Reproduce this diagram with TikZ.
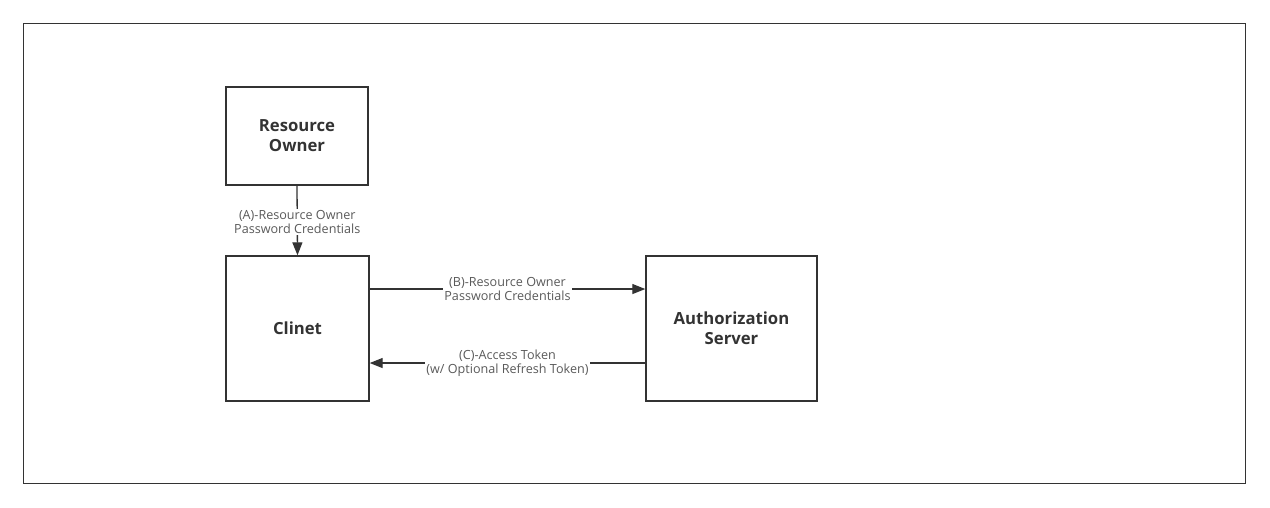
\documentclass[tikz,border=0pt]{standalone}
\usepackage{fontspec}
\setmainfont{Open Sans}
\usetikzlibrary{arrows.meta}
\definecolor{ink}{HTML}{333333}
\definecolor{lbl}{HTML}{5a5a5a}
\begin{document}
\begin{tikzpicture}[x=1pt,y=-1pt,
  box/.style={draw=ink,line width=1.4pt,minimum width=#1,inner sep=0pt,align=center,font=\fontsize{16.7}{20}\selectfont\bfseries,text=ink},
  lab/.style={fill=white,inner sep=1.5pt,align=center,font=\fontsize{12.6}{14}\selectfont,text=lbl},
  arr/.style={draw=ink,line width=1.3pt,-{Triangle[length=13pt,width=10pt]}}]
\useasboundingbox (0,0) rectangle (1270,507);
\draw[ink,line width=1.2pt] (23.5,23.5) rectangle (1245.5,483.5);
\node[box=142pt,minimum height=98pt] (ro) at (297,136) {Resource\\Owner};
\node[box=143pt,minimum height=145pt] (cl) at (297.5,328.5) {Clinet};
\node[box=171pt,minimum height=145pt] (as) at (731.5,328.5) {Authorization\\Server};
\coordinate (bs) at ([yshift=39.5pt]cl.east);
\coordinate (be) at ([yshift=39.5pt]as.west);
\coordinate (cs) at ([yshift=-34.5pt]as.west);
\coordinate (ce) at ([yshift=-34.5pt]cl.east);
\draw[arr] (ro.south) -- (cl.north) node[lab,pos=0.52] (la) {(A)-Resource Owner\\Password Credentials};
\draw[arr] (bs) -- (be) node[lab,pos=0.5] (lb) {(B)-Resource Owner\\Password Credentials};
\draw[arr] (cs) -- (ce) node[lab,pos=0.5] (lc) {(C)-Access Token\\(w/ Optional Refresh Token)};
\end{tikzpicture}
\end{document}
